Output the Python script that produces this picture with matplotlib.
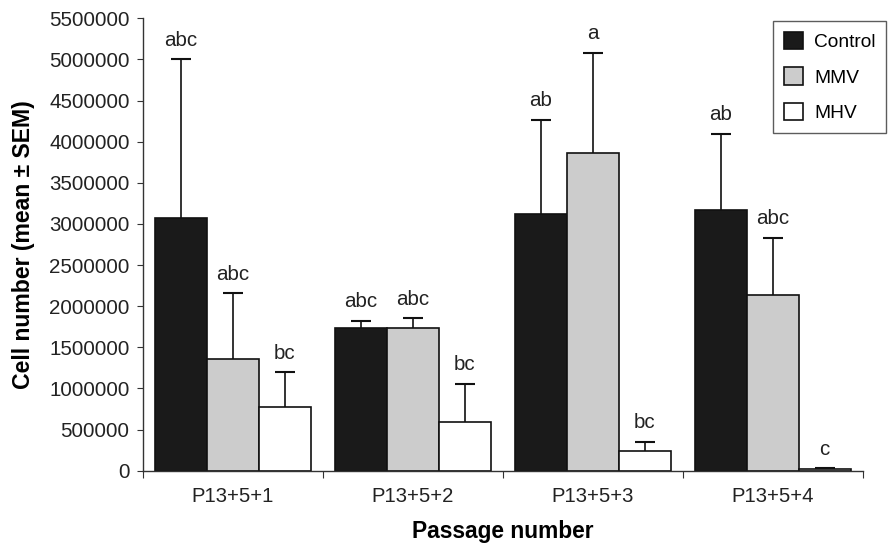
import matplotlib
matplotlib.use('Agg')
import matplotlib.pyplot as plt
import numpy as np

plt.rcParams['font.family'] = ['Liberation Sans', 'DejaVu Sans']

passages = ['P13+5+1', 'P13+5+2', 'P13+5+3', 'P13+5+4']
groups = ['Control', 'MMV', 'MHV']

control_mean = [3070000, 1735000, 3117000, 3166000]
control_sem = [1930000, 89000, 1147000, 931000]
mmv_mean = [1358000, 1735000, 3863000, 2136000]
mmv_sem = [799000, 118000, 1219000, 697000]
mhv_mean = [778000, 588000, 240000, 20000]
mhv_sem = [418000, 466000, 113000, 10000]

control_letters = ['abc', 'abc', 'ab', 'ab']
mmv_letters = ['abc', 'abc', 'a', 'abc']
mhv_letters = ['bc', 'bc', 'bc', 'c']

means = [control_mean, mmv_mean, mhv_mean]
sems = [control_sem, mmv_sem, mhv_sem]
letters = [control_letters, mmv_letters, mhv_letters]
colors = ['#1a1a1a', '#cccccc', '#ffffff']

fig = plt.figure(figsize=(8.88, 5.44), dpi=100)
ax = fig.add_axes([0.1607, 0.1347, 0.8108, 0.8317])

x = np.arange(len(passages))
w = 0.289
for i in range(3):
    pos = x + (i - 1) * w
    # symmetric error bars drawn behind the bars, so only the upper half shows
    ax.errorbar(pos, means[i], yerr=sems[i], fmt='none',
                ecolor='#111111', elinewidth=1.2, capsize=7, capthick=1.5, zorder=1)
    ax.bar(pos, means[i], w, color=colors[i], edgecolor='#111111', linewidth=1.2,
           label=groups[i], zorder=2)
    for j in range(len(x)):
        ax.annotate(letters[i][j], (pos[j], means[i][j] + sems[i][j]),
                    xytext=(0, 7), textcoords='offset points',
                    ha='center', va='bottom', fontsize=14.8, color='#222222')

ax.set_xlim(-0.5, 3.5)
ax.set_ylim(0, 5500000)
yt = np.arange(0, 5500001, 500000)
ax.set_yticks(yt)
ax.set_yticklabels([str(int(v)) for v in yt], fontsize=14.8, color='#222222')
ax.set_xticks(np.arange(-0.5, 3.6, 1))
ax.set_xticklabels([])
ax.set_xticks(x, minor=True)
ax.set_xticklabels(passages, minor=True, fontsize=14.6, color='#222222')
ax.tick_params(axis='x', which='minor', length=0, pad=12)
ax.tick_params(axis='x', which='major', length=5, color='#333333')
ax.tick_params(axis='y', length=4.5, pad=5, color='#333333')

for s in ['top', 'right']:
    ax.spines[s].set_visible(False)
for s in ['left', 'bottom']:
    ax.spines[s].set_color('#333333')
    ax.spines[s].set_linewidth(1.0)

ax.set_ylabel('Cell number (mean \u00b1 SEM)', fontsize=16.6, fontweight='bold', labelpad=10)
ax.set_xlabel('Passage number', fontsize=16.4, fontweight='bold', labelpad=10)

leg = ax.legend(loc='upper right', bbox_to_anchor=(1.033, 0.993), fontsize=13.8,
                frameon=True, fancybox=False, edgecolor='#333333',
                handlelength=1.0, handleheight=1.0, handletextpad=0.6,
                labelspacing=0.85, borderpad=0.55, borderaxespad=0)
leg.get_frame().set_linewidth(1.0)

fig.savefig('out.png', dpi=100)
